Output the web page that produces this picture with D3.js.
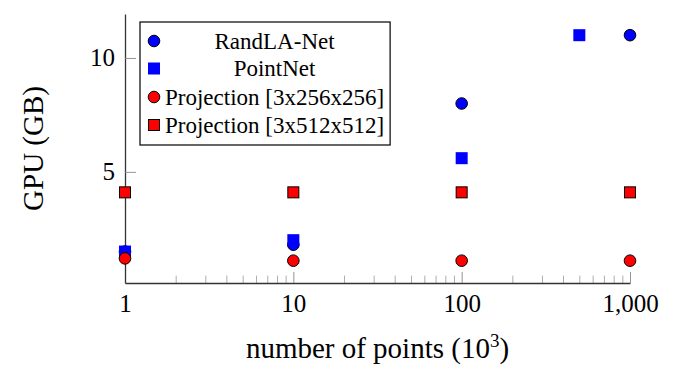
<!DOCTYPE html>
<html>
<head>
<meta charset="utf-8">
<script src="https://cdn.jsdelivr.net/npm/d3@7"></script>
<style>
  html, body { margin: 0; padding: 0; background: #fff; }
  svg { display: block; }
  text { font-family: "Liberation Serif", "DejaVu Serif", serif; fill: #000; }
</style>
</head>
<body>
<svg id="chart" width="675" height="378"></svg>
<script>
// ---- data ----
const seriesNames = ["RandLA-Net", "PointNet", "Projection [3x256x256]", "Projection [3x512x512]"];
const randlaX = [1, 10, 100, 1000];
const randlaY = [1.5, 1.8, 8, 11];
const pointnetX = [1, 10, 100, 500];
const pointnetY = [1.5, 2.0, 5.6, 11];
const proj256X = [1, 10, 100, 1000];
const proj256Y = [1.2, 1.1, 1.1, 1.1];
const proj512X = [1, 10, 100, 1000];
const proj512Y = [4.1, 4.1, 4.1, 4.1];
const xTicks = [1, 10, 100, 1000];
const xMinorTicks = [2,3,4,5,6,7,8,9,20,30,40,50,60,70,80,90,200,300,400,500,600,700,800,900];
const yTicks = [5, 10];
const xLabel = "number of points (10";
const xLabelSup = "3";
const yLabel = "GPU (GB)";

// ---- layout ----
const FONT = "Liberation Serif";
const svg = d3.select("#chart");
const pLeft = 125, pRight = 630, pTop = 14, pBottom = 283;
const x = d3.scaleLog().domain([1, 1000]).range([pLeft, pRight]);
const y = d3.scaleLinear().domain([0.12, 11.93]).range([pBottom, pTop]);

const BLUE = "#0000ff", RED = "#ff0000";

// minor x ticks
const minor = svg.append("g").attr("transform", `translate(0,${pBottom})`)
  .call(d3.axisBottom(x).tickValues(xMinorTicks).tickSize(-7.4).tickFormat(""));
minor.select(".domain").remove();
minor.selectAll(".tick line").attr("stroke", "#999").attr("stroke-width", 0.8);

// major x axis
const gx = svg.append("g").attr("transform", `translate(0,${pBottom})`)
  .call(d3.axisBottom(x).tickValues(xTicks).tickSize(-11).tickSizeOuter(0)
        .tickPadding(11).tickFormat(d3.format(",")));
gx.attr("font-family", FONT);
gx.selectAll(".tick text").attr("font-size", 25).attr("font-family", FONT);
gx.selectAll(".tick line").attr("stroke", "#888").attr("stroke-width", 0.9);
gx.select(".domain").attr("stroke", "#333").attr("stroke-width", 1.3);

// y axis
const gy = svg.append("g").attr("transform", `translate(${pLeft},0)`)
  .call(d3.axisLeft(y).tickValues(yTicks).tickSize(-11).tickSizeOuter(0).tickPadding(10));
gy.attr("font-family", FONT);
gy.selectAll(".tick text").attr("font-size", 25).attr("font-family", FONT);
gy.selectAll(".tick line").attr("stroke", "#888").attr("stroke-width", 0.9);
gy.select(".domain").attr("stroke", "#333").attr("stroke-width", 1.3);

// axis titles
const xt = svg.append("text").attr("x", (pLeft + pRight) / 2).attr("y", 358)
  .attr("text-anchor", "middle").attr("font-size", 29).attr("font-family", FONT);
xt.append("tspan").text(xLabel);
xt.append("tspan").attr("font-size", 19).attr("dy", -11).text(xLabelSup);
xt.append("tspan").attr("dy", 11).text(")");

svg.append("text")
  .attr("transform", `translate(43,${(pTop + pBottom) / 2}) rotate(-90)`)
  .attr("text-anchor", "middle").attr("font-size", 29).attr("font-family", FONT).text(yLabel);

// ---- marks ----
const R = 5.8;
function circles(xs, ys, fill) {
  svg.append("g").selectAll("circle").data(xs.map((d, i) => [d, ys[i]])).join("circle")
    .attr("cx", d => x(d[0])).attr("cy", d => y(d[1])).attr("r", R)
    .attr("fill", fill).attr("stroke", "#000").attr("stroke-width", 1);
}
function squares(xs, ys, fill, size, stroke) {
  svg.append("g").selectAll("rect").data(xs.map((d, i) => [d, ys[i]])).join("rect")
    .attr("x", d => x(d[0]) - size / 2).attr("y", d => y(d[1]) - size / 2)
    .attr("width", size).attr("height", size)
    .attr("fill", fill).attr("stroke", stroke || "none").attr("stroke-width", 1);
}
circles(randlaX, randlaY, BLUE);
squares(pointnetX, pointnetY, BLUE, 12, null);
circles(proj256X, proj256Y, RED);
squares(proj512X, proj512Y, RED, 11, "#000");

// ---- legend ----
const lg = svg.append("g");
const box = lg.append("rect").attr("fill", "#fff").attr("stroke", "#000").attr("stroke-width", 1.2);
const rowY = [41, 68.5, 97, 125];
const markX = 154, textX0 = 165;
const texts = seriesNames.map((name, i) =>
  lg.append("text").attr("y", rowY[i] + 7.5).attr("font-size", 23).attr("font-family", FONT)
    .attr("text-anchor", "middle").text(name));
const maxW = d3.max(texts, t => t.node().getComputedTextLength());
const colCenter = textX0 + maxW / 2;
texts.forEach(t => t.attr("x", colCenter));
box.attr("x", 140).attr("y", 22).attr("width", textX0 + maxW + 6 - 140).attr("height", 123);
lg.append("circle").attr("cx", markX).attr("cy", rowY[0]).attr("r", R).attr("fill", BLUE).attr("stroke", "#000");
lg.append("rect").attr("x", markX - 6).attr("y", rowY[1] - 6).attr("width", 12).attr("height", 12).attr("fill", BLUE);
lg.append("circle").attr("cx", markX).attr("cy", rowY[2]).attr("r", R).attr("fill", RED).attr("stroke", "#000");
lg.append("rect").attr("x", markX - 5.5).attr("y", rowY[3] - 5.5).attr("width", 11).attr("height", 11).attr("fill", RED).attr("stroke", "#000");
</script>
</body>
</html>
